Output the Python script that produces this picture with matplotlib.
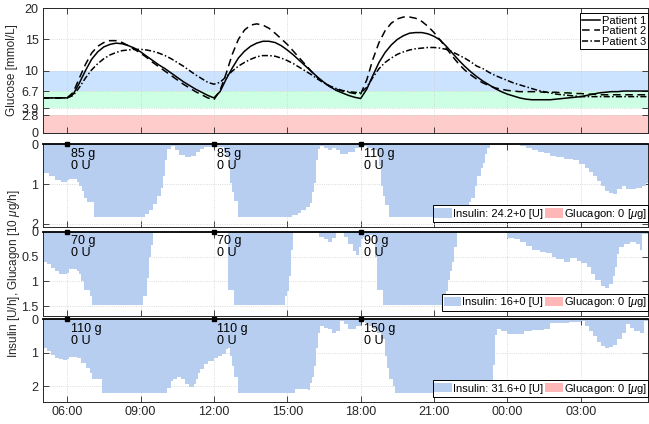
import matplotlib
matplotlib.use("Agg")
import matplotlib.pyplot as plt
from matplotlib.patches import Patch
from matplotlib.lines import Line2D
from matplotlib.ticker import FixedLocator, FuncFormatter

plt.rcParams['font.family'] = ['Liberation Sans', 'DejaVu Sans']
plt.rcParams['mathtext.fontset'] = 'custom'
plt.rcParams['mathtext.it'] = 'Liberation Sans:italic'
plt.rcParams['mathtext.rm'] = 'Liberation Sans'

# ---------------- data ----------------
# glucose time grid (hours since midnight of day 1)
glu_t = [5 + 0.25 * i for i in range(100)]

glu_p1 = [5.6, 5.6, 5.6, 5.6, 5.6, 6.2, 8.0, 10.0, 11.8, 13.0,
          13.8, 14.2, 14.4, 14.3, 14.0, 13.6, 13.0, 12.3, 11.6, 10.9,
          10.3, 9.6, 8.9, 8.2, 7.6, 7.0, 6.5, 6.0, 5.6, 6.6,
          8.6, 10.4, 12.0, 13.1, 13.9, 14.4, 14.7, 14.7, 14.5, 14.0,
          13.3, 12.5, 11.6, 10.7, 9.8, 8.9, 8.1, 7.4, 6.8, 6.4,
          6.0, 5.7, 5.5, 7.0, 9.2, 11.3, 12.9, 14.1, 15.0, 15.6,
          16.0, 16.1, 16.1, 15.9, 15.5, 14.9, 13.9, 12.8, 11.7, 10.7,
          9.8, 9.0, 8.3, 7.7, 7.1, 6.6, 6.2, 5.9, 5.6, 5.4,
          5.3, 5.3, 5.3, 5.3, 5.4, 5.5, 5.6, 5.7, 5.8, 6.0,
          6.2, 6.4, 6.5, 6.6, 6.6, 6.7, 6.7, 6.7, 6.7, 6.7]

glu_p2 = [5.6, 5.6, 5.6, 5.6, 5.6, 6.5, 8.8, 11.0, 12.8, 13.9,
          14.5, 14.8, 14.8, 14.5, 14.0, 13.4, 12.8, 12.1, 11.3, 10.6,
          9.9, 9.2, 8.5, 7.8, 7.2, 6.6, 6.1, 5.6, 5.3, 6.8,
          9.5, 12.6, 15.0, 16.5, 17.3, 17.5, 17.3, 16.8, 16.0, 15.1,
          14.2, 13.1, 12.0, 10.9, 9.8, 8.8, 8.0, 7.4, 7.0, 6.7,
          6.5, 6.3, 6.2, 8.5, 11.8, 14.5, 16.4, 17.6, 18.3, 18.6,
          18.6, 18.4, 17.9, 17.1, 16.1, 14.9, 13.6, 12.3, 11.1, 10.1,
          9.3, 8.6, 8.0, 7.6, 7.2, 7.0, 6.8, 6.7, 6.6, 6.6,
          6.6, 6.6, 6.5, 6.5, 6.5, 6.4, 6.4, 6.3, 6.3, 6.2,
          6.2, 6.1, 6.1, 6.1, 6.1, 6.1, 6.1, 6.1, 6.1, 6.1]

glu_p3 = [5.6, 5.6, 5.6, 5.6, 5.6, 6.0, 7.3, 8.8, 10.1, 11.1,
          11.9, 12.5, 12.9, 13.2, 13.3, 13.4, 13.4, 13.3, 13.1, 12.8,
          12.4, 11.9, 11.3, 10.7, 10.0, 9.3, 8.7, 8.1, 7.8, 8.1,
          9.0, 9.9, 10.7, 11.3, 11.8, 12.2, 12.4, 12.4, 12.3, 12.0,
          11.6, 11.1, 10.5, 9.9, 9.3, 8.6, 8.0, 7.5, 7.1, 6.8,
          6.6, 6.5, 6.4, 7.3, 8.9, 10.3, 11.3, 12.0, 12.6, 13.0,
          13.3, 13.5, 13.6, 13.7, 13.7, 13.6, 13.4, 13.0, 12.5, 12.0,
          11.4, 10.7, 10.3, 9.7, 9.2, 8.8, 8.4, 8.0, 7.7, 7.4,
          7.1, 6.8, 6.6, 6.4, 6.2, 6.1, 6.0, 5.9, 5.8, 5.8,
          5.8, 5.8, 5.8, 5.8, 5.8, 5.8, 5.8, 5.8, 5.8, 5.8]

patient_labels = ['Patient 1', 'Patient 2', 'Patient 3']

# glucose target bands [mmol/L]
band_hypo = (0.0, 2.8)
band_green = (3.9, 6.7)
band_blue = (6.7, 10.0)
glu_ticks = [0, 2.8, 3.9, 6.7, 10, 15, 20]
glu_tick_labels = ['0', '2.8', '3.9', '6.7', '10', '15', '20']

# insulin step profiles: change times [h] and rates [U/h]
ins_t1 = [5.0, 5.25, 5.5, 5.75, 6.0, 6.08, 6.4, 6.5, 6.6, 6.7, 6.8, 7.08, 9.17, 9.33,
          9.5, 9.67, 9.83, 9.92, 10.0, 10.08, 10.25, 10.42, 10.58, 10.83, 11.08, 11.25,
          11.42, 11.58, 12.4, 12.5, 12.6, 12.67, 12.75, 12.83, 13.0, 15.2, 15.42, 15.58,
          15.75, 15.92, 16.0, 16.08, 16.17, 16.25, 16.33, 16.5, 16.67, 16.83, 17.0, 17.17,
          17.5, 17.75, 17.92, 18.25, 18.5, 18.67, 18.75, 18.83, 18.92, 19.0, 19.17, 22.25,
          22.42, 22.5, 22.67, 22.75, 22.92, 23.0, 23.08, 23.17, 23.3, 24.5, 24.75, 25.0,
          25.25, 25.5, 25.75, 26.0, 26.33, 26.67, 26.92, 27.17, 27.33, 27.5, 27.67, 27.83,
          28.0, 28.17, 28.33, 28.5, 28.67, 28.83, 29.0, 29.25, 29.5, 29.67]
ins_v1 = [0.73, 0.8, 0.9, 0.94, 0.9, 0.88, 0.95, 1.05, 1.18, 1.35, 1.45, 1.83, 1.75, 1.65,
          1.5, 1.3, 1.1, 0.8, 0.4, 0.12, 0.05, 0.15, 0.26, 0.31, 0.28, 0.2,
          0.12, 0.06, 0.15, 0.3, 0.6, 0.96, 1.2, 1.43, 1.83, 1.78, 1.73, 1.65,
          1.58, 1.48, 1.2, 0.96, 0.4, 0.12, 0.05, 0.1, 0.14, 0.08, 0.15, 0.25,
          0.2, 0.08, 0.04, 0.1, 0.15, 0.3, 0.55, 1.05, 1.3, 1.52, 1.83, 1.7,
          1.45, 1.34, 1.05, 0.8, 0.6, 0.46, 0.25, 0.08, 0.0, 0.05, 0.1, 0.15,
          0.18, 0.22, 0.28, 0.32, 0.36, 0.4, 0.5, 0.6, 0.7, 0.8, 0.92, 1.05,
          1.17, 1.22, 1.25, 1.12, 1.05, 1.12, 1.13, 1.1, 1.05, 0.96]

ins_t2 = [5.0, 5.17, 5.33, 5.5, 5.67, 5.83, 6.0, 6.08, 6.42, 6.5, 6.58, 6.67, 6.92, 7.0,
          9.1, 9.25, 9.33, 9.42, 9.5, 9.6, 10.9, 11.1, 12.58, 12.83, 14.92, 15.0, 15.08,
          15.17, 15.25, 16.3, 16.5, 16.67, 16.83, 17.0, 17.17, 17.33, 17.5, 17.67, 17.83,
          17.92, 18.0, 18.08, 18.33, 18.5, 18.58, 18.67, 18.92, 21.5, 21.58, 21.67, 21.75,
          21.83, 21.92, 24.0, 24.25, 24.5, 24.75, 25.0, 25.33, 25.58, 25.83, 26.0, 26.33,
          26.58, 26.83, 27.0, 27.25, 27.42, 27.58, 27.83, 28.0, 28.17, 28.33, 28.42, 28.5,
          28.58, 28.75, 29.0, 29.25, 29.42, 29.5]
ins_v2 = [0.6, 0.65, 0.72, 0.8, 0.85, 0.86, 0.83, 0.76, 0.8, 0.86, 1.0, 1.17, 1.3, 1.47,
          1.3, 0.93, 0.5, 0.26, 0.02, 0.0, 0.02, 0.0, 1.17, 1.47, 1.3, 1.2, 0.9,
          0.37, 0.0, 0.1, 0.15, 0.2, 0.12, 0.03, 0.0, 0.1, 0.25, 0.38, 0.47,
          0.3, 0.15, 0.1, 0.06, 0.1, 0.5, 1.17, 1.47, 1.2, 0.97, 0.8, 0.6,
          0.3, 0.0, 0.13, 0.15, 0.2, 0.28, 0.37, 0.4, 0.43, 0.5, 0.55, 0.6,
          0.53, 0.58, 0.63, 0.7, 0.85, 0.97, 1.1, 1.13, 1.05, 0.9, 0.7, 0.45,
          0.3, 0.25, 0.2, 0.25, 0.37, 0.05]

ins_t3 = [5.0, 5.17, 5.33, 5.5, 5.67, 5.83, 6.0, 6.08, 6.42, 6.58, 6.75, 6.92, 7.0, 7.42,
          10.08, 10.25, 10.33, 10.5, 10.67, 10.83, 11.0, 11.17, 11.25, 11.33, 11.42, 11.58,
          11.75, 12.0, 12.17, 12.33, 12.5, 12.58, 12.67, 12.75, 12.83, 13.0, 15.33, 15.83,
          15.92, 16.0, 16.08, 16.17, 16.25, 16.33, 16.5, 16.67, 16.83, 17.0, 17.17, 17.33,
          17.5, 17.67, 17.83, 18.0, 18.17, 18.33, 18.5, 18.67, 18.83, 19.0, 19.08, 19.17,
          19.33, 19.42, 23.42, 23.5, 23.58, 23.75, 24.0, 24.5, 24.67, 25.0, 25.5, 25.75,
          26.5, 27.0, 27.17, 27.33, 27.5, 27.67, 27.83, 28.0, 28.17, 28.33, 28.5, 28.67,
          28.83, 29.0, 29.17, 29.42, 29.58]
ins_v3 = [0.86, 0.95, 1.07, 1.15, 1.2, 1.22, 1.19, 1.12, 1.15, 1.3, 1.47, 1.62, 1.78, 2.2,
          2.05, 1.85, 1.78, 1.73, 1.8, 1.93, 2.03, 1.95, 1.8, 1.6, 1.5, 1.35,
          1.25, 1.15, 1.1, 1.05, 0.9, 0.86, 1.1, 1.4, 1.73, 2.2, 2.1, 2.13,
          1.9, 1.73, 1.4, 0.86, 0.4, 0.2, 0.25, 0.3, 0.4, 0.35, 0.05, 0.15,
          0.28, 0.3, 0.2, 0.05, 0.1, 0.2, 0.3, 0.4, 0.6, 1.1, 1.47, 1.78,
          2.0, 2.2, 1.37, 0.46, 0.3, 0.35, 0.45, 0.43, 0.35, 0.32, 0.28, 0.1,
          0.08, 0.05, 0.2, 0.35, 0.5, 0.68, 0.8, 0.86, 0.82, 0.76, 0.6, 0.4,
          0.15, 0.25, 0.35, 0.4, 0.05]

meal_times = [6, 12, 18]
meals_g = [[85, 85, 110], [70, 70, 90], [110, 110, 150]]
bolus_U = [[0, 0, 0], [0, 0, 0], [0, 0, 0]]
ins_total = ['24.2+0', '16+0', '31.6+0']
glucagon_total = ['0', '0', '0']
ins_ylim = [2.08, 1.69, 2.48]
ins_yticks = [[0, 1, 2], [0, 0.5, 1, 1.5], [0, 1, 2]]
ins_yticklabels = [['0', '1', '2'], ['0', '0.5', '1', '1.5'], ['0', '1', '2']]

x_ticks = [6, 9, 12, 15, 18, 21, 24, 27]
x_start, x_end = 5.0, 29.75

# ---------------- styling ----------------
ins_color = '#b7cef1'
gluc_color = '#ffb6b6'
axc = '#262626'
grid_kw = dict(color='#cfcfcf', linestyle=':', linewidth=0.6)

def fmt_time(x, pos):
    h = int(round(x)) % 24
    return f"{h:02d}:00"

fig = plt.figure(figsize=(6.49, 4.24), dpi=100)
L, W = 0.0658, 0.9327
ax0 = fig.add_axes([L, 0.687, W, 0.2934])
ax1 = fig.add_axes([L, 0.4646, W, 0.1946])
ax2 = fig.add_axes([L, 0.2554, W, 0.1981])
ax3 = fig.add_axes([L, 0.0519, W, 0.1946])

def style(ax, labels_x=False):
    ax.set_xlim(x_start, x_end)
    ax.xaxis.set_major_locator(FixedLocator(x_ticks))
    ax.xaxis.set_major_formatter(FuncFormatter(fmt_time))
    ax.tick_params(direction='in', top=True, right=True, length=4, width=0.6,
                   labelsize=9, colors=axc, pad=3)
    if not labels_x:
        ax.tick_params(labelbottom=False)
    ax.grid(True, **grid_kw)
    ax.set_axisbelow(True)
    for s in ax.spines.values():
        s.set_color(axc)
        s.set_linewidth(0.7)

# glucose panel
ax0.axhspan(*band_hypo, color='#ffcccc', lw=0, zorder=0.5)
ax0.axhspan(*band_green, color='#ccffe3', lw=0, zorder=0.5)
ax0.axhspan(*band_blue, color='#cce3ff', lw=0, zorder=0.5)
ax0.plot(glu_t, glu_p1, color='k', lw=1.1, ls='-', label=patient_labels[0])
ax0.plot(glu_t, glu_p2, color='k', lw=1.1, ls=(0, (5, 3)), label=patient_labels[1])
ax0.plot(glu_t, glu_p3, color='k', lw=1.1, ls=(0, (4, 1.5, 1, 1.5)), label=patient_labels[2])
ax0.set_ylim(0, 20)
style(ax0)
ax0.yaxis.set_major_locator(FixedLocator(glu_ticks))
ax0.set_yticklabels(glu_tick_labels)
ax0.set_ylabel('Glucose [mmol/L]', fontsize=8.5, color=axc, labelpad=2)
leg = ax0.legend(loc='upper right', bbox_to_anchor=(1.0, 0.96), fontsize=8,
                 handlelength=1.6, handletextpad=0.15, labelspacing=0.05,
                 borderpad=0.2, borderaxespad=0, fancybox=False, framealpha=1,
                 edgecolor='k')
leg.get_frame().set_linewidth(0.7)

ins_axes = [ax1, ax2, ax3]
ins_ts = [ins_t1, ins_t2, ins_t3]
ins_vs = [ins_v1, ins_v2, ins_v3]
for k, ax in enumerate(ins_axes):
    edges = list(ins_ts[k]) + [x_end]
    ax.stairs(ins_vs[k], edges, baseline=0, fill=True, color=ins_color, lw=0, zorder=1)
    ax.set_ylim(ins_ylim[k], 0)
    style(ax, labels_x=(k == 2))
    ax.yaxis.set_major_locator(FixedLocator(ins_yticks[k]))
    ax.set_yticklabels(ins_yticklabels[k])
    ax.spines['top'].set_color('k')
    ax.spines['top'].set_linewidth(1.3)
    ax.plot(meal_times, [0] * len(meal_times), 's', color='k', ms=2.5,
            clip_on=False, zorder=5)
    for j, mt in enumerate(meal_times):
        ax.annotate(f"{meals_g[k][j]} g\n{bolus_U[k][j]} U", xy=(mt, 0),
                    xytext=(2.5, -2.5), textcoords='offset points', ha='left',
                    va='top', fontsize=9, linespacing=0.95, color='k', zorder=6)
    handles = [Patch(facecolor=ins_color, edgecolor='none'),
               Patch(facecolor=gluc_color, edgecolor='none')]
    labels = [f"Insulin: {ins_total[k]} [U]",
              f"Glucagon: {glucagon_total[k]} [$\\mu$g]"]
    lg = ax.legend(handles, labels, loc='lower right', bbox_to_anchor=(1.0, 0.06),
                   ncol=2, fontsize=8, handlelength=1.6, handleheight=0.9,
                   handletextpad=0.1, columnspacing=0.15, borderpad=0.12,
                   borderaxespad=0, fancybox=False, framealpha=1, edgecolor='k')
    lg.get_frame().set_linewidth(0.7)

fig.text(0.021, (0.0519 + 0.6592) / 2, 'Insulin [U/h], Glucagon [10 $\\mu$g/h]',
         rotation=90, ha='center', va='center', fontsize=8.5, color=axc)

fig.savefig('out.png', dpi=100)
